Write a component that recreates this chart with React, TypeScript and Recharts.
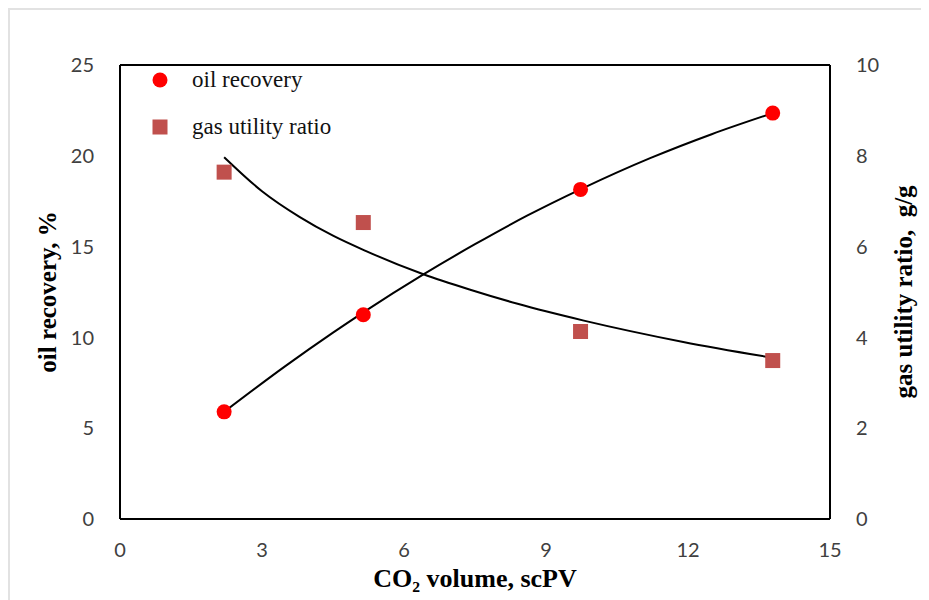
import React from 'react';
import { ComposedChart, Scatter, Line, XAxis, YAxis, Label, ReferenceLine } from 'recharts';

const xTicks = [0, 3, 6, 9, 12, 15];
const oilTicks = [0, 5, 10, 15, 20, 25];
const gasTicks = [0, 2, 4, 6, 8, 10];

// measured points
const oilPoints = [
  { x: 2.2, y: 5.9 },
  { x: 5.14, y: 11.25 },
  { x: 9.73, y: 18.15 },
  { x: 13.79, y: 22.35 },
];
const gasPoints = [
  { x: 2.2, y: 7.64 },
  { x: 5.14, y: 6.53 },
  { x: 9.73, y: 4.13 },
  { x: 13.79, y: 3.49 },
];

// trend lines
const oilTrend = [
  { x: 2.2, y: 5.9 },
  { x: 3.5, y: 8.43 },
  { x: 4.5, y: 10.26 },
  { x: 5.14, y: 11.38 },
  { x: 6.41, y: 13.47 },
  { x: 7.5, y: 15.13 },
  { x: 8.6, y: 16.7 },
  { x: 9.75, y: 18.18 },
  { x: 11.2, y: 19.87 },
  { x: 12.5, y: 21.19 },
  { x: 13.79, y: 22.35 },
];
const gasTrend = [
  { x: 2.2, y: 7.97 },
  { x: 3.0, y: 7.22 },
  { x: 3.8, y: 6.65 },
  { x: 4.5, y: 6.24 },
  { x: 5.2, y: 5.9 },
  { x: 6.41, y: 5.39 },
  { x: 7.4, y: 5.05 },
  { x: 8.4, y: 4.74 },
  { x: 9.8, y: 4.37 },
  { x: 11.9, y: 3.9 },
  { x: 13.79, y: 3.55 },
];

const RED = '#ff0000';
const BRICK = '#c0504d';
const tickStyle = { fill: '#404040', fontSize: 20, fontFamily: 'Lato, sans-serif' };
const titleFont = "'Liberation Serif', 'Times New Roman', serif";

const Dot = (props: any) => <circle cx={props.cx} cy={props.cy} r={7.5} fill={RED} />;
const Square = (props: any) => (
  <rect x={props.cx - 7.5} y={props.cy - 7.5} width={15} height={15} fill={BRICK} />
);

const LegendBox = () => (
  <div
    style={{
      position: 'absolute',
      left: 140,
      top: 46,
      fontFamily: titleFont,
      fontSize: 23,
      color: '#111',
      lineHeight: '47px',
    }}
  >
    <div style={{ display: 'flex', alignItems: 'center' }}>
      <svg width={20} height={20} style={{ marginRight: 22 }}>
        <circle cx={10} cy={10} r={7.5} fill={RED} />
      </svg>
      oil recovery
    </div>
    <div style={{ display: 'flex', alignItems: 'center' }}>
      <svg width={20} height={20} style={{ marginRight: 22 }}>
        <rect x={2.5} y={2.5} width={15} height={15} fill={BRICK} />
      </svg>
      gas utility ratio
    </div>
  </div>
);

export default function App() {
  return (
    <div
      style={{
        position: 'relative',
        width: 919,
        height: 590,
        borderLeft: '2px solid #e2e2e2',
        borderTop: '2px solid #e2e2e2',
        background: '#fff',
      }}
    >
      <ComposedChart width={919} height={590} margin={{ top: 55, right: 29, bottom: 51, left: 40 }}>
        <XAxis
          type="number"
          dataKey="x"
          domain={[0, 15]}
          ticks={xTicks}
          tickLine={false}
          axisLine={{ stroke: '#000', strokeWidth: 2 }}
          tick={tickStyle}
          tickMargin={18}
          height={30}
        >
          <Label
            value="CO₂ volume, scPV"
            position="bottom"
            offset={20}
            style={{ fontFamily: titleFont, fontWeight: 'bold', fontSize: 26, fill: '#000' }}
          />
        </XAxis>
        <YAxis
          yAxisId="left"
          type="number"
          dataKey="y"
          domain={[0, 25]}
          ticks={oilTicks}
          tickLine={false}
          axisLine={{ stroke: '#000', strokeWidth: 2 }}
          tick={tickStyle}
          tickMargin={20}
          width={70}
        >
          <Label
            value="oil recovery, %"
            angle={-90}
            position="left"
            offset={3}
            style={{ fontFamily: titleFont, fontWeight: 'bold', fontSize: 25, fill: '#000', textAnchor: 'middle' }}
          />
        </YAxis>
        <YAxis
          yAxisId="right"
          orientation="right"
          type="number"
          dataKey="y"
          domain={[0, 10]}
          ticks={gasTicks}
          tickLine={false}
          axisLine={{ stroke: '#000', strokeWidth: 2 }}
          tick={tickStyle}
          tickMargin={20}
          width={70}
        >
          <Label
            value={'gas utility ratio,\u00a0\u00a0g/g'}
            angle={-90}
            position="right"
            offset={3}
            style={{ fontFamily: titleFont, fontWeight: 'bold', fontSize: 25, fill: '#000', textAnchor: 'middle' }}
          />
        </YAxis>
        <ReferenceLine yAxisId="left" y={25} stroke="#000" strokeWidth={2} />
        <Scatter yAxisId="left" name="oil recovery" data={oilPoints} dataKey="y" shape={<Dot />} isAnimationActive={false} />
        <Scatter yAxisId="right" name="gas utility ratio" data={gasPoints} dataKey="y" shape={<Square />} isAnimationActive={false} />
        <Line yAxisId="left" data={oilTrend} dataKey="y" type="monotone" stroke="#000" strokeWidth={2} dot={false} isAnimationActive={false} />
        <Line yAxisId="right" data={gasTrend} dataKey="y" type="monotone" stroke="#000" strokeWidth={2} dot={false} isAnimationActive={false} />
      </ComposedChart>
      <LegendBox />
    </div>
  );
}
